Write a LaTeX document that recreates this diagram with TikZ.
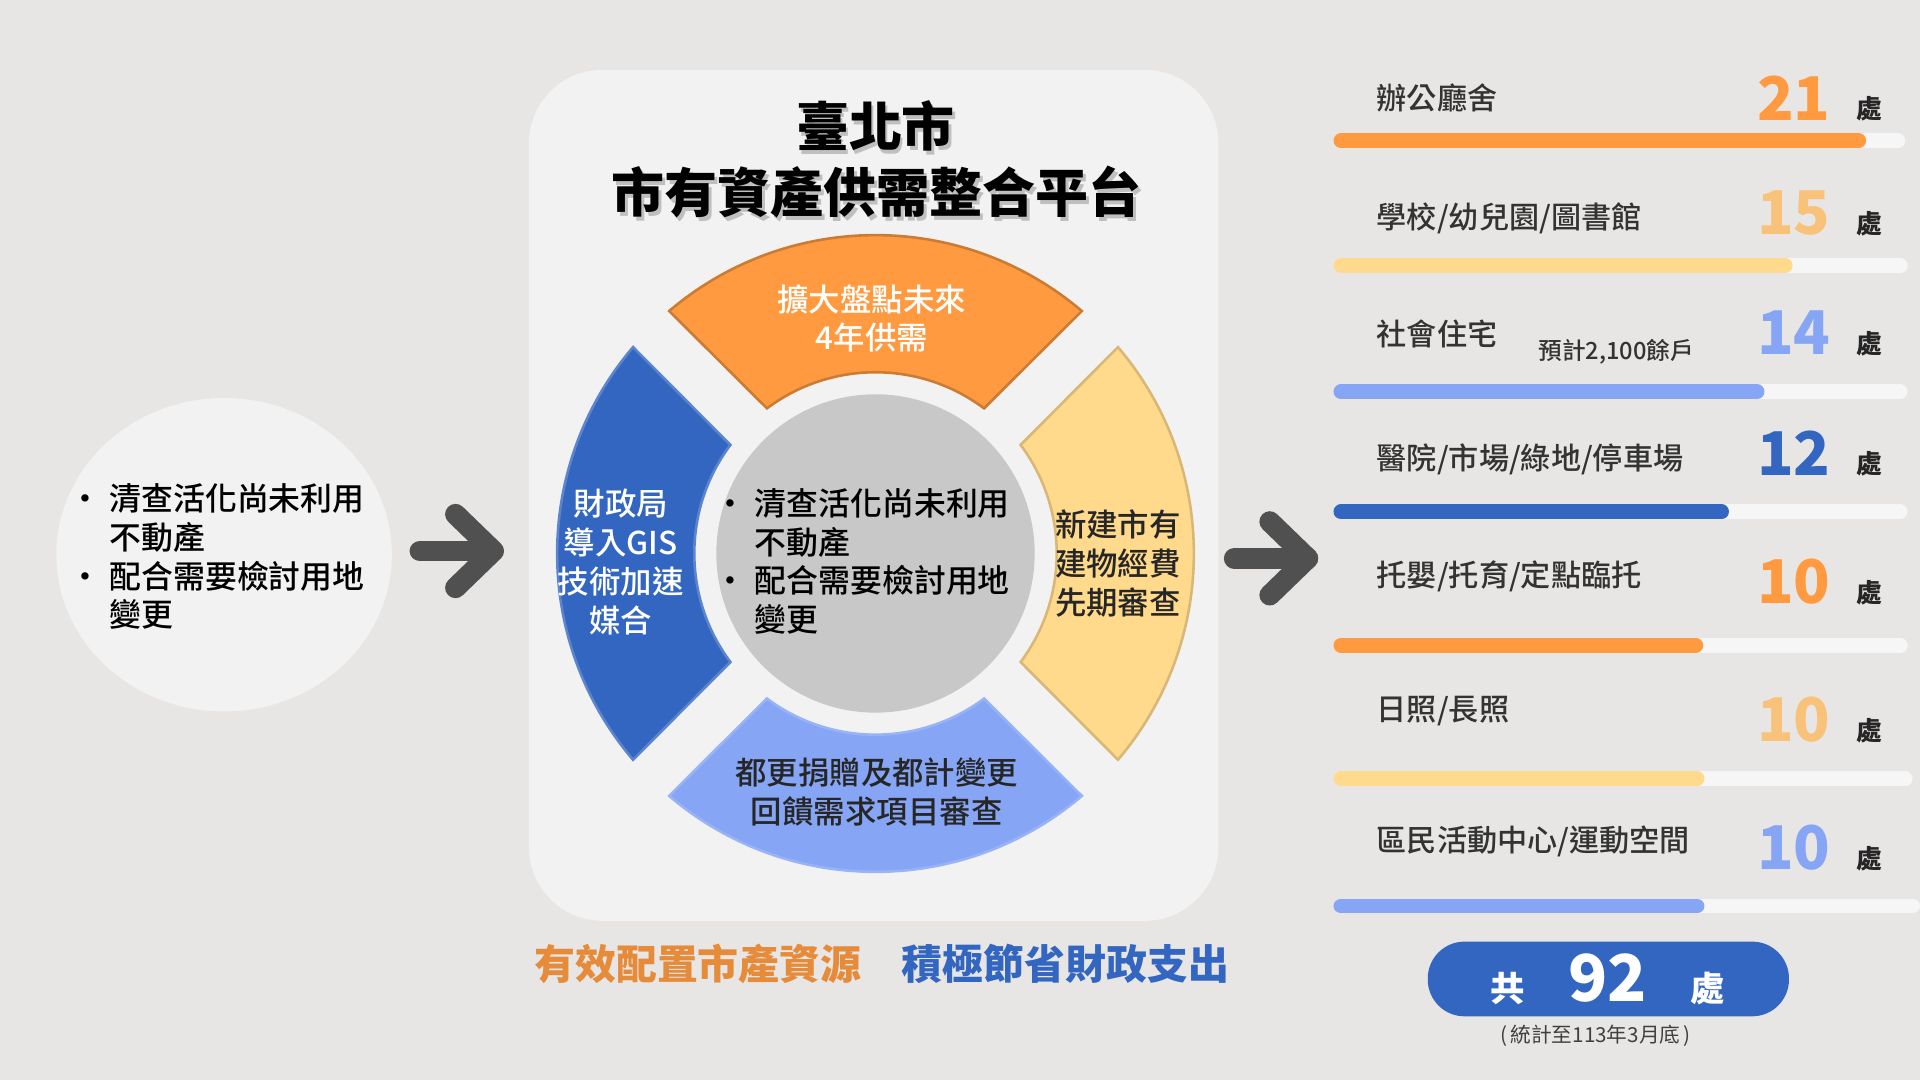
\documentclass[tikz,border=0pt]{standalone}
\usepackage{fontspec}
\setmainfont{Noto Sans CJK TC}
\newfontfamily\medfont{Noto Sans CJK TC}[UprightFont=* Medium]
\usetikzlibrary{calc}
\definecolor{bgc}{HTML}{E8E6E4}
\definecolor{panelc}{HTML}{F2F2F2}
\definecolor{orangec}{HTML}{FF9A40}
\definecolor{yellowc}{HTML}{FFD98C}
\definecolor{bluec}{HTML}{3366C0}
\definecolor{lbluec}{HTML}{86A6F5}
\definecolor{numyc}{HTML}{F8C27A}
\definecolor{grayc}{HTML}{C8C8C8}
\definecolor{arrowc}{HTML}{505050}
\definecolor{trackc}{HTML}{F6F6F6}
\tikzset{
  lbl/.style={anchor=west, font=\fontsize{7}{8}\selectfont\medfont, text=black!80},
  num/.style={font=\fontsize{14}{14}\selectfont\bfseries},
  unit/.style={font=\fontsize{6}{6}\selectfont\bfseries, text=black!85},
  bar/.style={line width=0.12cm, line cap=round},
  segtxt/.style={align=center, font=\fontsize{7.3}{9}\selectfont\medfont},
  bigarrow/.style={arrowc, line width=0.17cm, line cap=round, line join=round},
}
% annular sector centred on angle #1
\newcommand{\ringseg}[3]{%
  \filldraw[fill=#2, draw=#3, line width=0.6pt]
    ($(ctr)+(#1-40.4:260)$) arc[start angle=#1-40.4, end angle=#1+40.4, radius=260]
    -- ($(ctr)+(#1+36.8:148)$) arc[start angle=#1+36.8, end angle=#1-36.8, radius=148] -- cycle;}
\newcommand{\bulletlist}{%
  \begin{tabular}{@{}l@{\hspace{2pt}}l@{}}
  • & 清查活化尚未利用\\ & 不動產\\ • & 配合需要檢討用地\\ & 變更
  \end{tabular}}
\begin{document}
\begin{tikzpicture}[x=0.01cm, y=-0.01cm]
\fill[bgc] (0,0) rectangle (1568,882);
\useasboundingbox (0,0) rectangle (1568,882);
% left circle
\fill[panelc] (183,453) ellipse[x radius=137, y radius=128];
\node[font=\fontsize{7.4}{9}\selectfont\medfont, anchor=west] (src) at (44,458) {\bulletlist};
% platform panel
\fill[panelc, rounded corners=0.6cm] (432,57) rectangle (995,752);
\node[font=\fontsize{12.3}{13}\selectfont\bfseries, text=black!25] at (717,106) {臺北市};
\node[font=\fontsize{12.3}{13}\selectfont\bfseries] (title1) at (715,103) {臺北市};
\node[font=\fontsize{12.3}{13}\selectfont\bfseries, text=black!25] at (718,160) {市有資產供需整合平台};
\node[font=\fontsize{12.3}{13}\selectfont\bfseries] (title2) at (716,157) {市有資產供需整合平台};
% ring
\coordinate (ctr) at (715,452);
\ringseg{270}{orangec}{orangec!80!black}
\ringseg{180}{bluec}{bluec!80!white}
\ringseg{0}{yellowc}{yellowc!85!black}
\ringseg{90}{lbluec}{lbluec!85!white}
\fill[grayc] (ctr) circle[radius=130];
\node[segtxt, text=white] (seg1) at (712,260) {擴大盤點未來\\4年供需};
\node[segtxt, text=white] (seg2) at (507,459) {財政局\\導入GIS\\技術加速\\媒合};
\node[segtxt, text=black!85] (seg3) at (913,460) {新建市有\\建物經費\\先期審查};
\node[segtxt, text=black!85] (seg4) at (716,647) {都更捐贈及都計變更\\回饋需求項目審查};
\node[font=\fontsize{7.4}{9}\selectfont\medfont, anchor=west] (core) at (571,462) {\bulletlist};
% arrows
\draw[bigarrow] (343,450) -- (403,450);
\draw[bigarrow] (372,420) -- (403,450) -- (372,480);
\draw[bigarrow] (1008,456) -- (1068,456);
\draw[bigarrow] (1037,426) -- (1068,456) -- (1037,486);
% slogan
\node[font=\fontsize{9.5}{10}\selectfont\bfseries, text=orangec!90!black] (slogan1) at (570,787) {有效配置市產資源};
\node[font=\fontsize{9.5}{10}\selectfont\bfseries, text=bluec] (slogan2) at (870,787) {積極節省財政支出};
% right list
\foreach \lab/\ly/\n/\nc/\ny/\by/\bx/\bc/\tx in {
  {辦公廳舍}/80/21/orangec/80/115/1518/orangec/1550,
  {學校/幼兒園/圖書館}/178/15/numyc/174/217/1458/yellowc/1552,
  {社會住宅}/273/14/lbluec/272/320/1435/lbluec/1552,
  {醫院/市場/綠地/停車場}/375/12/bluec/370/418/1406/bluec/1552,
  {托嬰/托育/定點臨托}/471/10/orangec/475/527/1385/orangec/1552,
  {日照/長照}/581/10/numyc/588/636/1386/yellowc/1556,
  {區民活動中心/運動空間}/687/10/lbluec/692/740/1386/lbluec/1562}{
  \draw[bar, trackc] (1095,\by) -- (\tx,\by);
  \draw[bar, \bc] (1095,\by) -- (\bx,\by);
  \node[lbl] at (1112,\ly) {\lab};
  \node[num, text=\nc] at (1465,\ny) {\n};
  \node[unit] at (1527,\ny+9) {處};
}
\node[font=\fontsize{5.5}{6}\selectfont\medfont, text=black!80] (note) at (1320,287) {預計2,100餘戶};
% total
\fill[bluec, rounded corners=0.3cm] (1166,769) rectangle (1461,830);
\node[text=white, font=\bfseries] (total) at (1313,800)
  {\fontsize{8}{8}\selectfont 共\hspace{10pt}\fontsize{15}{15}\selectfont 92\hspace{10pt}\fontsize{8}{8}\selectfont 處};
\node[font=\fontsize{4.8}{5}\selectfont, text=black!75] (asof) at (1303,846) {(\,統計至113年3月底\,)};
\end{tikzpicture}
\end{document}
